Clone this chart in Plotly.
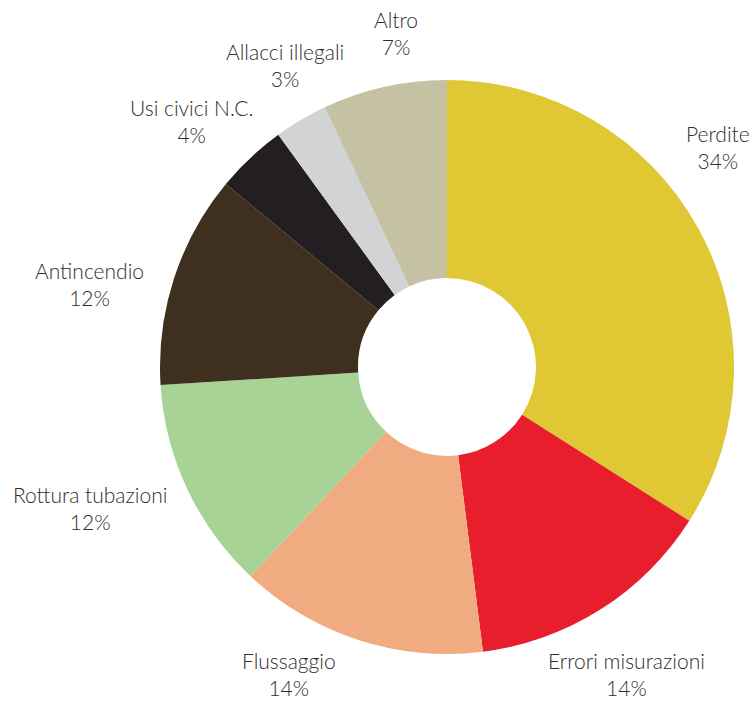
import plotly.graph_objects as go

# Causes of non-billed water volumes, shares in percent
categories = ["Perdite", "Errori misurazioni", "Flussaggio", "Rottura tubazioni",
              "Antincendio", "Usi civici N.C.", "Allacci illegali", "Altro"]
values = [34, 14, 14, 12, 12, 4, 3, 7]
colors = ["#E0C734", "#E81E2D", "#F0AC80", "#A8D396",
          "#3E2F1E", "#231F20", "#D1D3D4", "#C5C2A4"]

# Label anchor points (paper coordinates) for each category
label_x = [0.950, 0.829, 0.382, 0.119, 0.118, 0.253, 0.377, 0.524]
label_y = [0.790, 0.039, 0.039, 0.275, 0.595, 0.827, 0.907, 0.953]

W, H = 756, 701
cx, cy, r = 447, 367, 287

fig = go.Figure(go.Pie(
    labels=categories,
    values=values,
    marker=dict(colors=colors, line=dict(width=0)),
    hole=0.31,
    sort=False,
    direction="clockwise",
    rotation=0,
    textinfo="none",
    hoverinfo="label+percent",
    showlegend=False,
    domain=dict(x=[(cx - r) / W, (cx + r) / W],
                y=[(H - cy - r) / H, (H - cy + r) / H]),
))

for name, v, x, y in zip(categories, values, label_x, label_y):
    fig.add_annotation(
        x=x, y=y, xref="paper", yref="paper",
        text=f"{name}<br>{v}%",
        showarrow=False,
        xanchor="center", yanchor="middle",
        align="center",
        font=dict(family="Lato", size=21, weight=300, color="#2e2e2e"),
    )

fig.update_layout(
    width=W, height=H,
    margin=dict(l=0, r=0, t=0, b=0),
    paper_bgcolor="white",
    plot_bgcolor="white",
)

fig.write_html("out.html")
